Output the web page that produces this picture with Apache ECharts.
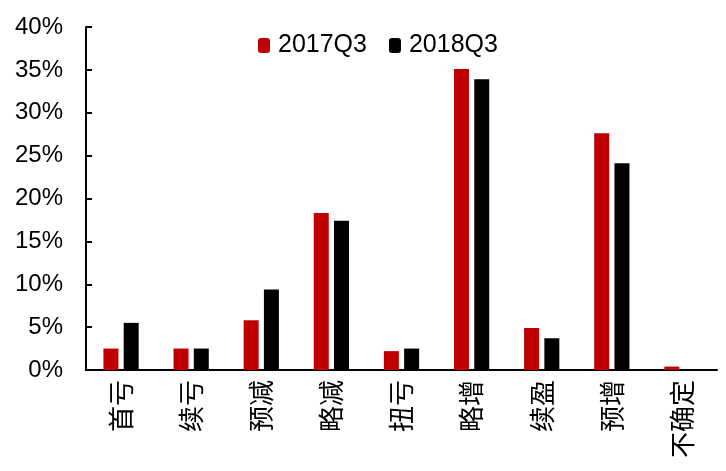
<!DOCTYPE html>
<html>
<head>
<meta charset="utf-8">
<script src="https://cdn.jsdelivr.net/npm/echarts@6/dist/echarts.min.js"></script>
<style>html,body{margin:0;padding:0;background:#fff;}#c{width:726px;height:471px;}</style>
</head>
<body>
<div id="c"></div>
<script>
var categories = ['首亏','续亏','预减','略减','扭亏','略增','续盈','预增','不确定'];
var s2017 = [2.5, 2.5, 5.8, 18.3, 2.2, 35.1, 4.9, 27.6, 0.4];
var s2018 = [5.5, 2.5, 9.4, 17.4, 2.5, 33.9, 3.7, 24.1, 0];
var yTicks = {min: 0, max: 40, interval: 5};

var chart = echarts.init(document.getElementById('c'), null, {renderer: 'canvas'});
var font = '"Liberation Sans", Arial, sans-serif';
chart.setOption({
  animation: false,
  backgroundColor: '#fff',
  textStyle: {fontFamily: font},
  legend: {
    left: 253, top: 28,
    itemWidth: 12, itemHeight: 15, itemGap: 22,
    textStyle: {fontSize: 25, color: '#000', fontFamily: font, padding: [0,0,0,3]},
    data: ['2017Q3', '2018Q3']
  },
  grid: {left: 86, right: 9, top: 27, bottom: 101, containLabel: false},
  xAxis: {
    type: 'category',
    data: categories,
    axisLine: {lineStyle: {color: '#000', width: 2}},
    axisTick: {show: false},
    axisLabel: {rotate: 90, fontSize: 26, color: '#000', margin: 10, fontFamily: '"Noto Sans CJK SC", sans-serif'}
  },
  yAxis: {
    type: 'value',
    min: yTicks.min, max: yTicks.max, interval: yTicks.interval,
    splitLine: {show: false},
    axisLine: {show: true, lineStyle: {color: '#000', width: 2}},
    axisTick: {show: true, inside: true, length: 6, lineStyle: {color: '#000', width: 2}},
    axisLabel: {formatter: '{value}%', fontSize: 24, color: '#000', margin: 23, fontFamily: font}
  },
  series: [
    {name: '2017Q3', type: 'bar', data: s2017, barWidth: 15, barGap: '35%', itemStyle: {color: '#C00000'}},
    {name: '2018Q3', type: 'bar', data: s2018, barWidth: 15, itemStyle: {color: '#000000'}}
  ]
});
</script>
</body>
</html>
